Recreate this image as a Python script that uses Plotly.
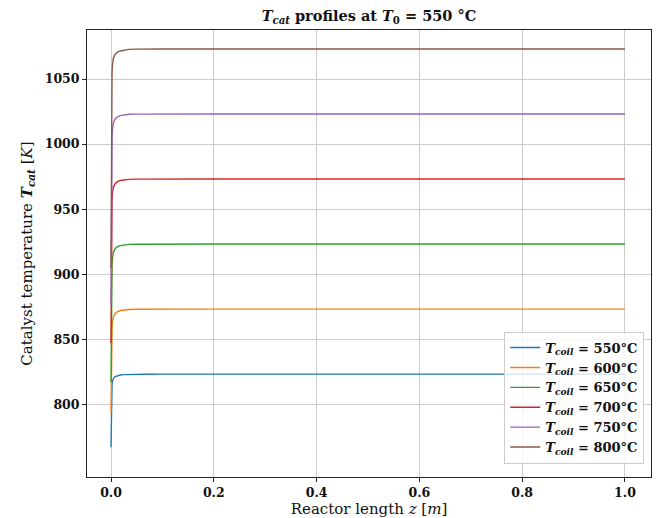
import plotly.graph_objects as go

# Axial positions along the reactor [m]
z = [0.0, 0.0005, 0.001, 0.002, 0.003, 0.005, 0.008, 0.012, 0.018, 0.025,
     0.035, 0.05, 0.07, 0.1, 0.2, 0.4, 0.6, 0.8, 1.0]

# Catalyst temperature profiles [K] for each coil temperature
T_550 = [767.0, 790.0, 805.0, 815.0, 818.0, 820.0, 821.3, 822.0, 822.5, 822.8,
         823.0, 823.1, 823.13, 823.15, 823.15, 823.15, 823.15, 823.15, 823.15]
T_600 = [793.0, 820.0, 840.0, 858.0, 864.0, 867.5, 869.8, 871.1, 872.1, 872.6,
         872.9, 873.05, 873.12, 873.15, 873.15, 873.15, 873.15, 873.15, 873.15]
T_650 = [817.0, 860.0, 888.0, 907.0, 913.0, 917.0, 919.6, 921.0, 922.0, 922.6,
         922.9, 923.05, 923.12, 923.15, 923.15, 923.15, 923.15, 923.15, 923.15]
T_700 = [847.0, 900.0, 935.0, 956.0, 963.0, 967.0, 969.5, 971.0, 972.0, 972.6,
         972.9, 973.05, 973.12, 973.15, 973.15, 973.15, 973.15, 973.15, 973.15]
T_750 = [876.0, 940.0, 980.0, 1005.0, 1012.0, 1016.5, 1019.3, 1020.8, 1021.9, 1022.5,
         1022.9, 1023.05, 1023.12, 1023.15, 1023.15, 1023.15, 1023.15, 1023.15, 1023.15]
T_800 = [905.0, 985.0, 1030.0, 1055.0, 1062.0, 1066.5, 1069.0, 1070.5, 1071.6, 1072.3,
         1072.8, 1073.0, 1073.1, 1073.15, 1073.15, 1073.15, 1073.15, 1073.15, 1073.15]

coil_temps = [550, 600, 650, 700, 750, 800]
profiles = [T_550, T_600, T_650, T_700, T_750, T_800]
colors = ["#1f77b4", "#ff7f0e", "#2ca02c", "#d62728", "#9467bd", "#8c564b"]

x_ticks = [0.0, 0.2, 0.4, 0.6, 0.8, 1.0]
y_ticks = [800, 850, 900, 950, 1000, 1050]

FONT = "DejaVu Serif"

fig = go.Figure()
for tc, T, c in zip(coil_temps, profiles, colors):
    fig.add_trace(go.Scatter(
        x=z, y=T, mode="lines",
        line=dict(color=c, width=1.4),
        name=f"<b><i>T</i><sub><i>coil</i></sub> = {tc}°C</b>",
    ))

axis_common = dict(
    showline=True, linecolor="#222222", linewidth=1, mirror=True,
    showgrid=True, gridcolor="#cccccc", gridwidth=0.8,
    zeroline=False, automargin=False,
    ticks="outside", ticklen=4, tickcolor="#222222", tickwidth=1,
    tickfont=dict(family=FONT, size=12.5, color="#111111"),
)

fig.update_layout(
    width=659, height=518,
    margin=dict(l=87, r=8, t=30, b=41),
    plot_bgcolor="white", paper_bgcolor="white",
    font=dict(family=FONT, color="#111111"),
    title=dict(
        text="<b><i>T</i><sub><i>cat</i></sub> profiles at <i>T</i><sub>0</sub> = 550 °C</b>",
        x=(87 + 651) / 2 / 659, xanchor="center",
        y=1 - 16 / 518, yanchor="middle",
        font=dict(family=FONT, size=14.5, color="#111111"),
    ),
    xaxis=dict(
        range=[-0.0467, 1.0506],
        tickvals=x_ticks, ticktext=[f"<b>{v:.1f}</b>" for v in x_ticks],
        title=dict(text="Reactor length <i>z</i> [<i>m</i>]",
                   font=dict(family=FONT, size=15), standoff=6),
        **axis_common,
    ),
    yaxis=dict(
        range=[744.1, 1087.7],
        tickvals=y_ticks, ticktext=[f"<b>{v}</b>" for v in y_ticks],
        title=dict(text="Catalyst temperature <b><i>T</i><sub><i>cat</i></sub></b> [<i>K</i>]",
                   font=dict(family=FONT, size=15), standoff=8),
        **axis_common,
    ),
    legend=dict(
        x=0.988, y=0.03, xanchor="right", yanchor="bottom",
        bgcolor="rgba(255,255,255,0.8)", bordercolor="#cccccc", borderwidth=1,
        font=dict(family=FONT, size=13, color="#111111"),
        tracegroupgap=0, itemwidth=30,
    ),
    showlegend=True,
)

fig.write_html("out.html")
